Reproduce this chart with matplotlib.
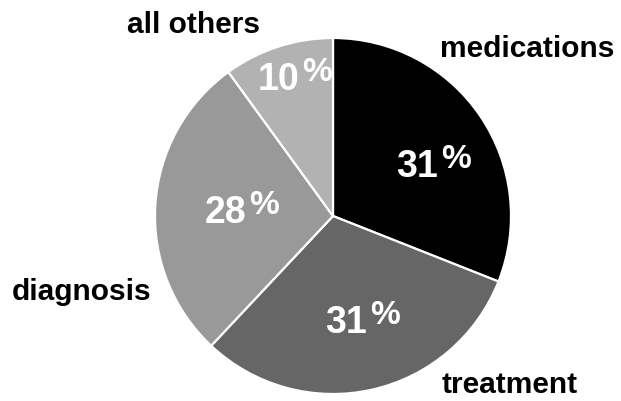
import matplotlib
matplotlib.use("Agg")
import matplotlib.pyplot as plt

categories = ["medications", "treatment", "diagnosis", "all others"]
shares = [31, 31, 28, 10]
colors = ["#000000", "#666666", "#999999", "#b2b2b2"]

# layout (pixel-derived positions in data units, pie radius = 1)
R_PX = 178.0
CX, CY = 333.0, 216.0
W, H = 621, 401

def px(x, y):
    return ((x - CX) / R_PX, (CY - y) / R_PX)

num_pos = [px(417, 177), px(346, 333), px(226, 223), px(278, 90)]
lab_pos = [px(527, 57), px(510, 393), px(82, 300), px(193, 33)]

plt.rcParams['font.family'] = ['Liberation Sans', 'DejaVu Sans']

fig = plt.figure(figsize=(W / 100, H / 100), dpi=100)
ax = fig.add_axes([0, 0, 1, 1])
wedges, _ = ax.pie(shares, colors=colors, startangle=90, counterclock=False,
                   radius=1.0, center=(0, 0),
                   wedgeprops=dict(edgecolor="white", linewidth=1.6))
ax.set_aspect('auto')
ax.set_xlim(-CX / R_PX, (W - CX) / R_PX)
ax.set_ylim(-(H - CY) / R_PX, CY / R_PX)
ax.axis('off')

for v, (x, y) in zip(shares, num_pos):
    t = ax.text(x, y, f"{v}", color="white", fontsize=27, fontweight="bold",
                ha="center", va="baseline")
    ax.annotate("%", xy=(1, 1), xycoords=t, xytext=(2.0, 3.5),
                textcoords="offset points", color="white", fontsize=24,
                fontweight="bold", ha="left", va="top")

for name, (x, y) in zip(categories, lab_pos):
    ax.text(x, y, name, color="black", fontsize=21.5, fontweight="bold",
            ha="center", va="baseline")

fig.savefig("out.png", dpi=100)
